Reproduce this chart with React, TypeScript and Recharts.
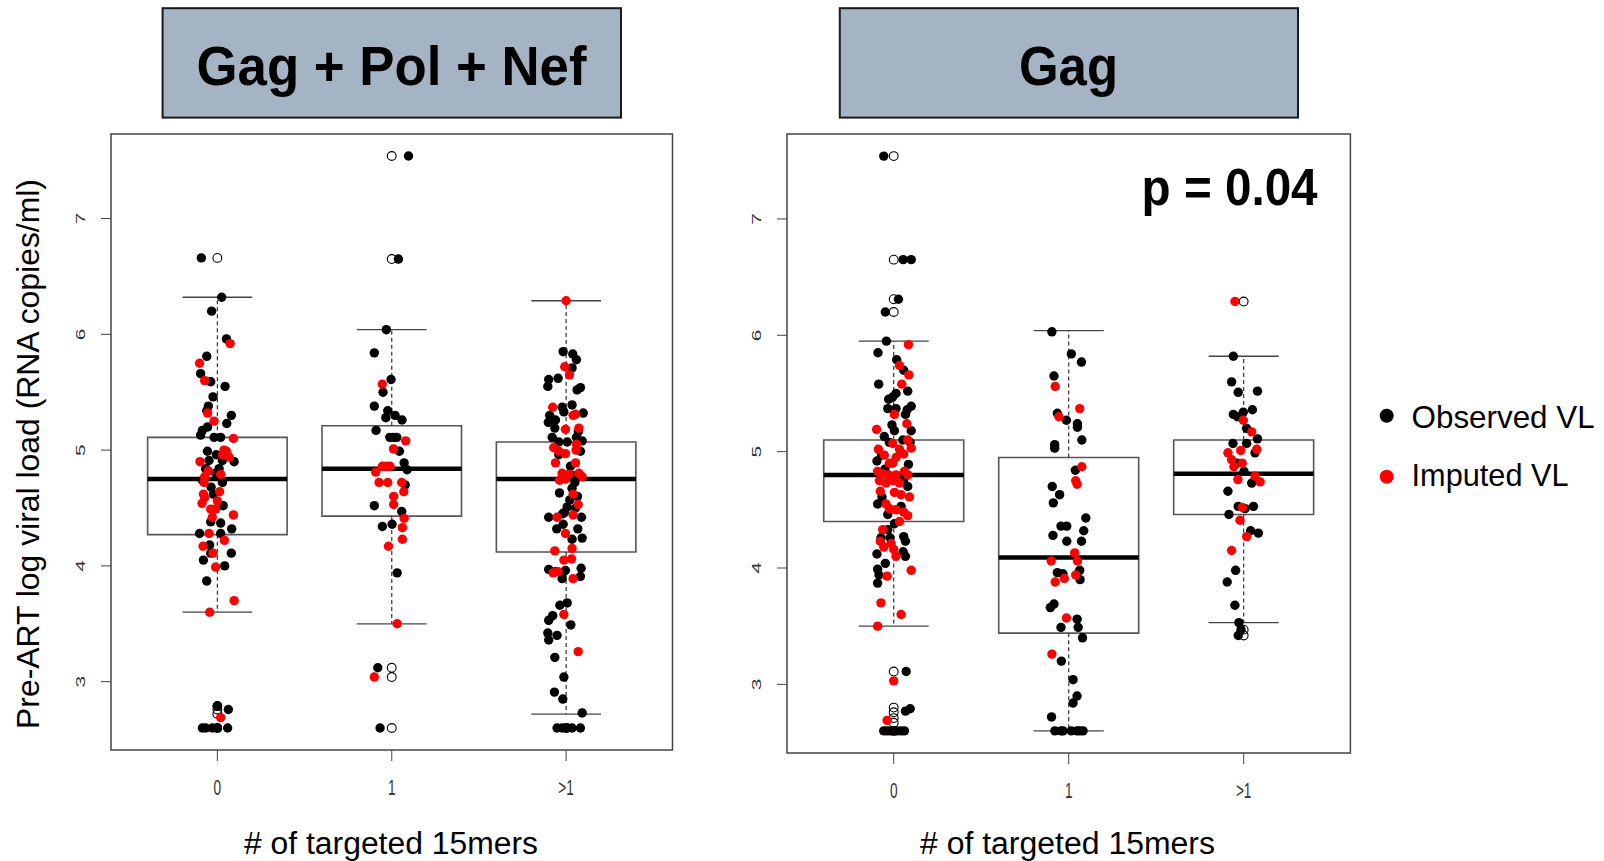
import React from "react";
import { ComposedChart, XAxis, YAxis, Scatter, ReferenceArea, ReferenceLine } from "recharts";

type Pt = [number, number]; // [jitter offset, log10 viral load]

const groupLabels = ["0", "1", ">1"];
const yTicks = [3, 4, 5, 6, 7];
const legendItems = [
    { name: "Observed VL", color: "#000000" },
    { name: "Imputed VL", color: "#ff0000" },
];

// [lower whisker, Q1, median, Q3, upper whisker]
const gpnBoxes = [
    [3.6, 4.27, 4.75, 5.11, 6.32],
    [3.5, 4.43, 4.84, 5.21, 6.04],
    [2.72, 4.12, 4.75, 5.07, 6.29],
];
const gagBoxes = [
    [3.5, 4.4, 4.8, 5.1, 5.95],
    [2.6, 3.44, 4.09, 4.95, 6.04],
    [3.53, 4.46, 4.81, 5.1, 5.82],
];

const gpnOutliers = [
    [6.66, 2.79, 2.76, 2.72, 2.6],
    [7.54, 6.65, 3.12, 3.04, 2.6],
    [2.6],
];
const gagOutliers = [
    [7.54, 6.65, 6.31, 6.2, 3.11, 2.8, 2.76, 2.71, 2.67, 2.6],
    [],
    [6.29, 3.47, 3.42],
];

const gpn0Observed: Pt[] = [
    [-0.092, 6.66], [0.025, 6.32], [-0.033, 6.2], [0.052, 5.96], [-0.061, 5.81], [-0.096, 5.66], [-0.038, 5.59],
    [0.044, 5.55], [-0.025, 5.46], [-0.052, 5.38], [-0.061, 5.34], [0.08, 5.3], [0.054, 5.23], [-0.056, 5.2],
    [-0.086, 5.17], [-0.096, 5.13], [-0.019, 5.11], [0.019, 5.11], [-0.057, 4.99], [-0.006, 4.96], [-0.048, 4.91],
    [0.029, 4.91], [0.096, 4.9], [0.01, 4.84], [-0.067, 4.84], [-0.01, 4.8], [-0.086, 4.74], [0.029, 4.72],
    [-0.036, 4.68], [-0.023, 4.62], [0.033, 4.52], [-0.038, 4.38], [0.019, 4.37], [0.082, 4.32], [-0.102, 4.28],
    [0.019, 4.28], [-0.044, 4.18], [-0.038, 4.11], [0.08, 4.11], [-0.08, 4.05], [0.042, 4.0], [-0.061, 3.87],
    [0, 2.79], [0.063, 2.76], [-0.086, 2.6], [-0.067, 2.6], [-0.029, 2.6], [0, 2.6], [0.059, 2.6],
];
const gpn0Imputed: Pt[] = [
    [0.073, 5.92], [-0.102, 5.75], [-0.073, 5.6], [-0.056, 5.32], [-0.019, 5.25], [0.092, 5.1], [0.038, 5.0],
    [0.052, 4.99], [0.029, 4.96], [0.067, 4.94], [-0.1, 4.9], [-0.052, 4.82], [-0.073, 4.77], [0.019, 4.79],
    [-0.077, 4.72], [0.013, 4.64], [-0.08, 4.62], [-0.073, 4.59], [-0.088, 4.54], [0, 4.56], [-0.038, 4.49],
    [-0.01, 4.49], [-0.029, 4.42], [0.092, 4.44], [-0.048, 4.28], [0.04, 4.22], [-0.082, 4.17], [-0.025, 4.11],
    [-0.01, 3.99], [0.096, 3.7], [-0.044, 3.6], [0.019, 2.69],
];
const gpn1Observed: Pt[] = [
    [0.096, 7.54], [0.038, 6.65], [-0.031, 6.04], [-0.1, 5.84], [-0.004, 5.61], [-0.05, 5.5], [-0.1, 5.38],
    [-0.023, 5.34], [0.019, 5.3], [-0.034, 5.28], [0.059, 5.26], [-0.09, 5.17], [-0.011, 5.11], [0.01, 5.11],
    [0.029, 5.11], [0.044, 4.99], [0.071, 4.89], [0.088, 4.83], [0.077, 4.7], [-0.1, 4.52], [0.057, 4.47],
    [-0.054, 4.34], [0.002, 4.36], [0.031, 3.94], [-0.08, 3.12], [-0.067, 2.6],
];
const gpn1Imputed: Pt[] = [
    [-0.054, 5.57], [0.08, 5.08], [0.01, 5.01], [-0.092, 4.81], [-0.054, 4.86], [-0.029, 4.86], [-0.01, 4.86],
    [-0.073, 4.72], [-0.023, 4.72], [0.057, 4.72], [0.069, 4.64], [0.011, 4.6], [0.011, 4.53], [0.071, 4.41],
    [0.061, 4.33], [0.061, 4.23], [-0.019, 4.17], [0.031, 3.5], [-0.1, 3.04],
];
const gpn2Observed: Pt[] = [
    [-0.017, 5.85], [0.038, 5.83], [0.059, 5.78], [0.034, 5.71], [-0.1, 5.61], [-0.046, 5.62], [-0.105, 5.55],
    [0.082, 5.54], [0.063, 5.52], [0.034, 5.39], [-0.023, 5.37], [-0.013, 5.33], [-0.094, 5.3], [-0.102, 5.24],
    [0.098, 5.32], [-0.061, 5.26], [-0.065, 5.19], [0.07, 5.16], [-0.08, 5.11], [-0.042, 5.07], [0.006, 5.07],
    [0.092, 5.08], [0.059, 5.11], [0.082, 4.99], [-0.042, 4.96], [0.025, 4.86], [0.045, 4.78], [0.05, 4.72],
    [0.034, 4.67], [-0.038, 4.63], [0.065, 4.6], [0.021, 4.57], [0.006, 4.51], [0.054, 4.5], [-0.01, 4.46],
    [-0.02, 4.45], [-0.1, 4.42], [0.088, 4.42], [-0.017, 4.36], [-0.054, 4.32], [0.067, 4.32], [0.092, 4.24],
    [0.034, 4.23], [-0.1, 3.97], [-0.061, 3.95], [-0.004, 3.96], [0.086, 3.98], [0.082, 3.91], [-0.023, 3.89],
    [0.006, 3.68], [-0.036, 3.66], [-0.077, 3.57], [-0.1, 3.53], [0.027, 3.49], [-0.105, 3.42], [-0.052, 3.4],
    [-0.1, 3.36], [-0.065, 3.21], [-0.013, 3.04], [-0.067, 2.91], [-0.019, 2.85], [0.092, 2.73], [-0.052, 2.6],
    [-0.023, 2.6], [0.006, 2.6], [0.034, 2.6], [0.082, 2.6],
];
const gpn2Imputed: Pt[] = [
    [0, 6.29], [-0.008, 5.72], [0.019, 5.65], [-0.077, 5.37], [0.054, 5.31], [0.04, 5.3], [-0.004, 5.18],
    [0.073, 5.19], [0.059, 5.05], [-0.071, 5.02], [-0.042, 4.99], [-0.004, 4.97], [0.057, 5.0], [-0.061, 4.89],
    [0.054, 4.89], [-0.023, 4.8], [0.015, 4.79], [0.073, 4.8], [0.092, 4.77], [-0.038, 4.74], [-0.004, 4.75],
    [0.04, 4.62], [0.069, 4.53], [0.04, 4.44], [-0.052, 4.42], [-0.004, 4.28], [0.034, 4.15], [-0.065, 4.13],
    [0.031, 4.06], [-0.013, 4.05], [-0.075, 3.94], [-0.046, 3.95], [0.04, 3.89], [-0.013, 3.58], [0.069, 3.26],
];

const gag0Observed: Pt[] = [
    [-0.057, 7.54], [0.054, 6.65], [0.1, 6.65], [0.027, 6.31], [-0.048, 6.2], [-0.042, 5.95], [-0.09, 5.85],
    [0.017, 5.79], [0.057, 5.7], [-0.086, 5.58], [0.08, 5.52], [0.013, 5.5], [-0.006, 5.47], [-0.029, 5.45],
    [0.1, 5.39], [0.077, 5.36], [-0.034, 5.37], [0.013, 5.37], [0.067, 5.32], [-0.01, 5.23], [0.004, 5.18],
    [0.1, 5.18], [-0.054, 5.13], [-0.025, 5.08], [0.052, 5.1], [0.094, 5.08], [-0.069, 4.97], [-0.096, 4.92],
    [0.084, 4.89], [-0.05, 4.85], [0.057, 4.76], [0.08, 4.7], [-0.067, 4.61], [-0.092, 4.55], [0.042, 4.53],
    [-0.034, 4.46], [0.004, 4.38], [-0.034, 4.33], [-0.021, 4.26], [0.057, 4.27], [0.067, 4.23], [-0.073, 4.26],
    [-0.096, 4.12], [0.054, 4.14], [0.067, 4.1], [-0.048, 4.04], [-0.092, 3.99], [-0.084, 3.94], [-0.092, 3.87],
    [0.071, 3.11], [0.067, 2.77], [0.094, 2.79], [-0.057, 2.6], [-0.038, 2.6], [-0.019, 2.6], [0, 2.6],
    [0.019, 2.6], [0.042, 2.6], [0.061, 2.6],
];
const gag0Imputed: Pt[] = [
    [0.084, 5.92], [0.033, 5.74], [0.086, 5.66], [0.046, 5.58], [0.004, 5.32], [0.075, 5.24], [-0.098, 5.19],
    [-0.006, 5.07], [0.08, 5.1], [-0.088, 5.02], [-0.054, 4.97], [0.033, 5.02], [0.1, 5.03], [0.057, 4.98],
    [0.013, 4.95], [-0.006, 4.9], [-0.025, 4.9], [-0.092, 4.83], [-0.063, 4.81], [-0.029, 4.8], [0.013, 4.8],
    [0.061, 4.83], [0.08, 4.8], [-0.082, 4.75], [-0.044, 4.73], [-0.006, 4.75], [0.033, 4.73], [-0.077, 4.66],
    [0.004, 4.65], [0.042, 4.63], [0.09, 4.61], [-0.044, 4.55], [-0.025, 4.51], [0.013, 4.5], [0.057, 4.48],
    [0.08, 4.45], [0.033, 4.4], [-0.063, 4.33], [-0.077, 4.23], [-0.057, 4.18], [-0.015, 4.21], [0, 4.16],
    [0.013, 4.1], [-0.038, 3.93], [0.1, 3.98], [-0.073, 3.7], [0.042, 3.6], [-0.092, 3.5], [0, 3.03], [-0.038, 2.69],
];
const gag1Observed: Pt[] = [
    [-0.096, 6.03], [0.015, 5.84], [0.073, 5.77], [-0.084, 5.65], [-0.065, 5.33], [-0.013, 5.27], [0.05, 5.24],
    [0.05, 5.21], [0.075, 5.1], [-0.08, 5.06], [-0.08, 5.03], [0.038, 4.84], [-0.094, 4.7], [-0.052, 4.63],
    [-0.088, 4.56], [0.098, 4.43], [-0.044, 4.36], [-0.011, 4.36], [0.086, 4.32], [-0.09, 4.28], [-0.011, 4.23],
    [0.073, 4.23], [-0.065, 3.96], [-0.033, 3.95], [0.063, 3.98], [0.065, 3.9], [-0.105, 3.66], [-0.084, 3.69],
    [0.048, 3.56], [-0.044, 3.49], [0.054, 3.49], [0.079, 3.4], [-0.042, 3.2], [0.025, 3.04], [0.048, 2.9],
    [0.025, 2.84], [-0.098, 2.72], [-0.079, 2.6], [-0.044, 2.6], [-0.033, 2.6], [0.015, 2.6], [0.048, 2.6],
    [0.063, 2.6], [0.082, 2.6],
];
const gag1Imputed: Pt[] = [
    [-0.077, 5.56], [0.063, 5.37], [-0.056, 5.3], [0.075, 4.87], [0.04, 4.75], [0.048, 4.72], [0.034, 4.13],
    [-0.1, 4.06], [0.05, 4.06], [-0.077, 3.88], [-0.025, 3.91], [0.04, 3.94], [-0.013, 3.57], [-0.096, 3.26],
];
const gag2Observed: Pt[] = [
    [-0.059, 5.82], [-0.069, 5.6], [-0.031, 5.51], [0.079, 5.52], [-0.059, 5.32], [-0.036, 5.3], [-0.002, 5.34],
    [0.05, 5.36], [0.017, 5.2], [0.079, 5.11], [-0.061, 5.07], [0.017, 5.07], [0.065, 4.99], [-0.036, 4.9],
    [0.002, 4.83], [0.046, 4.73], [-0.09, 4.66], [-0.031, 4.53], [0.008, 4.51], [0.056, 4.53], [-0.084, 4.46],
    [0.04, 4.32], [0.084, 4.3], [-0.046, 3.98], [-0.094, 3.88], [-0.05, 3.68], [-0.027, 3.53], [-0.015, 3.47],
    [-0.031, 3.42],
];
const gag2Imputed: Pt[] = [
    [-0.05, 6.29], [-0.002, 5.27], [0.046, 5.17], [0.075, 5.02], [-0.09, 4.99], [-0.017, 5.01], [-0.069, 4.93],
    [-0.056, 4.87], [-0.008, 4.9], [-0.033, 4.76], [0.065, 4.79], [0.094, 4.74], [-0.008, 4.52], [-0.021, 4.41],
    [0.017, 4.27], [-0.069, 4.15],
];

const X_DOMAIN: [number, number] = [0.39, 3.61];
const Y_DOMAIN: [number, number] = [2.41, 7.73];
const FONT = "'Liberation Sans', Arial, sans-serif";

const toPoints = (groups: Pt[][]) =>
    groups.flatMap((g, i) => g.map(([dx, v]) => ({ x: i + 1 + dx, y: v })));
const toOutliers = (groups: number[][]) => groups.flatMap((g, i) => g.map((v) => ({ x: i + 1, y: v })));

const dot = (color: string) => (p: any) => <circle cx={p.cx} cy={p.cy} r={4.7} fill={color} />;
const ring = (p: any) => <circle cx={p.cx} cy={p.cy} r={4.4} fill="none" stroke="#000" strokeWidth={1.1} />;

const XTick = (p: any) => (
    <g transform={`translate(${p.x},${p.y}) scale(0.62,1)`}>
        <text x={0} y={0} dy={32} textAnchor="middle" fontSize={22} fontFamily={FONT} fill="#333">
            {groupLabels[p.payload.value - 1]}
        </text>
    </g>
);

const YTick = (p: any) => (
    <g transform={`translate(${p.x - 14},${p.y}) scale(0.6,1) rotate(-90)`}>
        <text x={0} y={0} textAnchor="middle" fontSize={21} fontFamily={FONT} fill="#333">
            {p.payload.value}
        </text>
    </g>
);

type Frame = { l: number; t: number; r: number; b: number };

function Panel({
    frame,
    boxes,
    observed,
    imputed,
    outliers,
}: {
    frame: Frame;
    boxes: number[][];
    observed: Pt[][];
    imputed: Pt[][];
    outliers: number[][];
}) {
    const left = frame.l - 60;
    const top = frame.t - 10;
    const width = frame.r - left + 10;
    const height = frame.b - top + 60;
    return (
        <div style={{ position: "absolute", left, top }}>
            <ComposedChart width={width} height={height} margin={{ top: 10, right: 10, bottom: 0, left: 0 }}>
                <XAxis
                    type="number"
                    dataKey="x"
                    domain={X_DOMAIN}
                    ticks={[1, 2, 3]}
                    allowDataOverflow
                    axisLine={false}
                    tickLine={{ stroke: "#444" }}
                    tickSize={11}
                    tick={<XTick />}
                    height={60}
                />
                <YAxis
                    type="number"
                    dataKey="y"
                    domain={Y_DOMAIN}
                    ticks={yTicks}
                    allowDataOverflow
                    axisLine={false}
                    tickLine={{ stroke: "#444" }}
                    tickSize={10}
                    tick={<YTick />}
                    width={60}
                />
                <ReferenceArea
                    x1={X_DOMAIN[0]}
                    x2={X_DOMAIN[1]}
                    y1={Y_DOMAIN[0]}
                    y2={Y_DOMAIN[1]}
                    fill="none"
                    stroke="#444"
                    strokeWidth={1.5}
                />
                {boxes.map(([lo, q1, med, q3, hi], i) => (
                    <ReferenceArea
                        key={`box${i}`}
                        x1={i + 0.6}
                        x2={i + 1.4}
                        y1={q1}
                        y2={q3}
                        fill="none"
                        stroke="#555"
                        strokeWidth={1.6}
                    />
                ))}
                {boxes.map(([lo, q1, med, q3, hi], i) => [
                    <ReferenceLine
                        key={`wu${i}`}
                        segment={[{ x: i + 1, y: q3 }, { x: i + 1, y: hi }]}
                        stroke="#333"
                        strokeWidth={1.2}
                        strokeDasharray="4 3"
                    />,
                    <ReferenceLine
                        key={`wl${i}`}
                        segment={[{ x: i + 1, y: q1 }, { x: i + 1, y: lo }]}
                        stroke="#333"
                        strokeWidth={1.2}
                        strokeDasharray="4 3"
                    />,
                    <ReferenceLine
                        key={`cu${i}`}
                        segment={[{ x: i + 0.8, y: hi }, { x: i + 1.2, y: hi }]}
                        stroke="#444"
                        strokeWidth={1.3}
                    />,
                    <ReferenceLine
                        key={`cl${i}`}
                        segment={[{ x: i + 0.8, y: lo }, { x: i + 1.2, y: lo }]}
                        stroke="#444"
                        strokeWidth={1.3}
                    />,
                    <ReferenceLine
                        key={`md${i}`}
                        segment={[{ x: i + 0.6, y: med }, { x: i + 1.4, y: med }]}
                        stroke="#000"
                        strokeWidth={4.5}
                    />,
                ])}
                <Scatter data={toOutliers(outliers)} shape={ring} isAnimationActive={false} />
                <Scatter data={toPoints(observed)} shape={dot("#000000")} isAnimationActive={false} />
                <Scatter data={toPoints(imputed)} shape={dot("#ff0000")} isAnimationActive={false} />
            </ComposedChart>
        </div>
    );
}

const frame1: Frame = { l: 110.5, t: 134, r: 672, b: 750 };
const frame2: Frame = { l: 786.6, t: 134, r: 1350, b: 753 };

export default function App() {
    return (
        <div style={{ position: "absolute", left: 0, top: 0, width: 1604, height: 861, background: "#fff", overflow: "hidden" }}>
            <svg width={1604} height={861} style={{ position: "absolute", left: 0, top: 0 }} fontFamily={FONT}>
                <rect x={162.6} y={8.2} width={458.4} height={109.4} fill="#a4b4c4" stroke="#1a1a1a" strokeWidth={2} />
                <text x={391.5} y={85} textAnchor="middle" fontSize={56} fontWeight="bold" textLength={390} lengthAdjust="spacingAndGlyphs">
                    Gag + Pol + Nef
                </text>
                <rect x={839.8} y={8.2} width={458.2} height={109.4} fill="#a4b4c4" stroke="#1a1a1a" strokeWidth={2} />
                <text x={1068.5} y={85} textAnchor="middle" fontSize={56} fontWeight="bold" textLength={99} lengthAdjust="spacingAndGlyphs">
                    Gag
                </text>
                <text x={1141.6} y={204.6} fontSize={52} fontWeight="bold" textLength={176} lengthAdjust="spacingAndGlyphs">
                    p = 0.04
                </text>
                <text
                    transform="translate(39,454) rotate(-90)"
                    textAnchor="middle"
                    fontSize={31}
                    textLength={550}
                    lengthAdjust="spacingAndGlyphs"
                >
                    Pre-ART log viral load (RNA copies/ml)
                </text>
                <text x={391} y={854} textAnchor="middle" fontSize={31} textLength={294} lengthAdjust="spacingAndGlyphs">
                    # of targeted 15mers
                </text>
                <text x={1067.5} y={854} textAnchor="middle" fontSize={31} textLength={295} lengthAdjust="spacingAndGlyphs">
                    # of targeted 15mers
                </text>
                {legendItems.map((item, i) => (
                    <g key={item.name}>
                        <circle cx={1386.7} cy={415.7 + i * 61} r={7} fill={item.color} />
                        <text x={1411.6} y={428.3 + i * 58} fontSize={32} textLength={i === 0 ? 183 : 157} lengthAdjust="spacingAndGlyphs">
                            {item.name}
                        </text>
                    </g>
                ))}
            </svg>
            <Panel
                frame={frame1}
                boxes={gpnBoxes}
                observed={[gpn0Observed, gpn1Observed, gpn2Observed]}
                imputed={[gpn0Imputed, gpn1Imputed, gpn2Imputed]}
                outliers={gpnOutliers}
            />
            <Panel
                frame={frame2}
                boxes={gagBoxes}
                observed={[gag0Observed, gag1Observed, gag2Observed]}
                imputed={[gag0Imputed, gag1Imputed, gag2Imputed]}
                outliers={gagOutliers}
            />
        </div>
    );
}
